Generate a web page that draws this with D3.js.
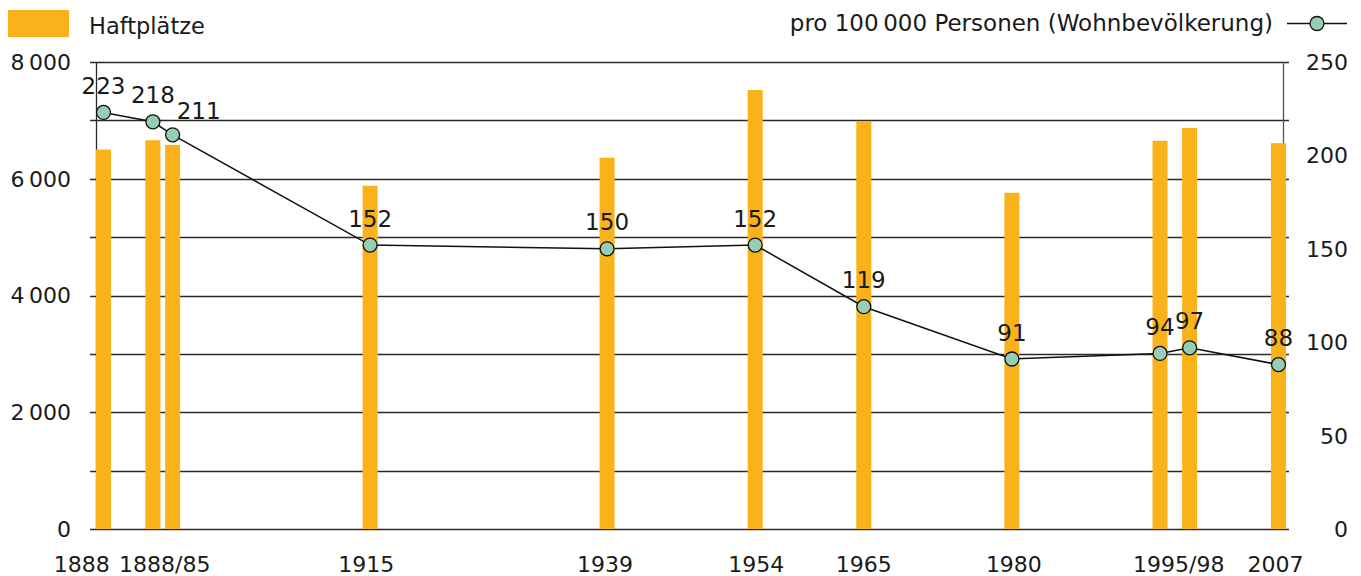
<!DOCTYPE html>
<html>
<head>
<meta charset="utf-8">
<script src="https://cdn.jsdelivr.net/npm/d3@7"></script>
<style>
  html, body { margin: 0; padding: 0; background: #fff; }
  svg { display: block; font-family: "DejaVu Sans", sans-serif; }
</style>
</head>
<body>
<svg id="chart" width="1361" height="576"></svg>
<script>
// Survey years (a two-year pair around 1893/95 and 1995/98)
const years = [1888, 1893, 1895, 1915, 1939, 1954, 1965, 1980, 1995, 1998, 2007];
// Prison places (left axis)
const haftplaetze = [6500, 6660, 6580, 5880, 6360, 7520, 6990, 5760, 6650, 6870, 6610];
// Prison places per 100 000 residents (right axis)
const proHunderttausend = [223, 218, 211, 152, 150, 152, 119, 91, 94, 97, 88];

// Category labels on the x axis and the year each one is centred on
const xLabels = ["1888", "1888/85", "1915", "1939", "1954", "1965", "1980", "1995/98", "2007"];
const xLabelYears = [1885.8, 1894.2, 1914.6, 1938.8, 1954.1, 1965, 1980.2, 1996.9, 2006.7];

const leftTicks = [0, 2000, 4000, 6000, 8000];
const rightTicks = [0, 50, 100, 150, 200, 250];
const gridValues = [0, 1000, 2000, 3000, 4000, 5000, 6000, 7000, 8000];

const legendBars = "Haftplätze";
const legendLine = "pro 100\u2009000 Personen (Wohnbevölkerung)";

const BAR = "#F9B21A";
const DOT = "#95CEB5";
const INK = "#1a1a1a";

const svg = d3.select("#chart");

const plot = { left: 96.5, right: 1283.5, top: 62, bottom: 529 };

const x = d3.scaleLinear().domain([1888, 2007]).range([103.5, 1278.5]);
const yL = d3.scaleLinear().domain([0, 8000]).range([plot.bottom, plot.top]);
const yR = d3.scaleLinear().domain([0, 250]).range([plot.bottom, plot.top]);

const fmt = v => d3.format(",")(v).replace(/,/g, "\u2009");

// Horizontal grid lines with small tick stubs on both sides
svg.append("g")
  .selectAll("line")
  .data(gridValues)
  .join("line")
  .attr("x1", 90).attr("x2", 1289)
  .attr("y1", d => Math.round(yL(d)) + 0.5)
  .attr("y2", d => Math.round(yL(d)) + 0.5)
  .attr("stroke", "#2a2a2a")
  .attr("stroke-width", 1.3);

// Frame verticals
svg.append("line")
  .attr("x1", plot.left).attr("x2", plot.left)
  .attr("y1", plot.top).attr("y2", plot.bottom)
  .attr("stroke", "#2a2a2a").attr("stroke-width", 1.3);
svg.append("line")
  .attr("x1", plot.right).attr("x2", plot.right)
  .attr("y1", plot.top).attr("y2", plot.bottom)
  .attr("stroke", "#555").attr("stroke-width", 1.3);

// Bars
const barW = 15;
svg.append("g")
  .selectAll("rect")
  .data(years)
  .join("rect")
  .attr("x", (d) => x(d) - barW / 2)
  .attr("width", barW)
  .attr("y", (d, i) => yL(haftplaetze[i]))
  .attr("height", (d, i) => plot.bottom - yL(haftplaetze[i]))
  .attr("fill", BAR);

// Left axis labels
svg.append("g")
  .selectAll("text")
  .data(leftTicks)
  .join("text")
  .attr("x", 71)
  .attr("y", d => yL(d))
  .attr("dy", "0.36em")
  .attr("text-anchor", "end")
  .attr("font-size", 22)
  .attr("fill", INK)
  .text(fmt);

// Right axis labels
svg.append("g")
  .selectAll("text")
  .data(rightTicks)
  .join("text")
  .attr("x", 1348)
  .attr("y", d => yR(d))
  .attr("dy", "0.36em")
  .attr("text-anchor", "end")
  .attr("font-size", 22)
  .attr("fill", INK)
  .text(d => d);

// X axis labels
svg.append("g")
  .selectAll("text")
  .data(xLabels)
  .join("text")
  .attr("x", (d, i) => x(xLabelYears[i]))
  .attr("y", 572)
  .attr("text-anchor", "middle")
  .attr("font-size", 22)
  .attr("fill", INK)
  .text(d => d);

// Rate line
const line = d3.line()
  .x((d, i) => x(years[i]))
  .y(d => yR(d));
svg.append("path")
  .datum(proHunderttausend)
  .attr("d", line)
  .attr("fill", "none")
  .attr("stroke", "#111")
  .attr("stroke-width", 1.5);

svg.append("g")
  .selectAll("circle")
  .data(proHunderttausend)
  .join("circle")
  .attr("cx", (d, i) => x(years[i]))
  .attr("cy", d => yR(d))
  .attr("r", 7)
  .attr("fill", DOT)
  .attr("stroke", "#111")
  .attr("stroke-width", 1.3);

// Value labels above the markers; the 1895 label is nudged right to clear its neighbour
const nudge = { 2: 26 };
svg.append("g")
  .selectAll("text")
  .data(proHunderttausend)
  .join("text")
  .attr("x", (d, i) => x(years[i]) + (nudge[i] || 0))
  .attr("y", (d, i) => yR(d) - (i === 2 ? 16 : 18.5))
  .attr("text-anchor", "middle")
  .attr("font-size", 23)
  .attr("fill", INK)
  .text(d => d);

// Legend
svg.append("rect")
  .attr("x", 8).attr("y", 10).attr("width", 61).attr("height", 27)
  .attr("fill", BAR);
svg.append("text")
  .attr("x", 89).attr("y", 34)
  .attr("font-size", 22.5)
  .attr("fill", INK)
  .text(legendBars);

svg.append("text")
  .attr("x", 1273).attr("y", 31)
  .attr("text-anchor", "end")
  .attr("font-size", 23)
  .attr("fill", INK)
  .text(legendLine);
svg.append("line")
  .attr("x1", 1287).attr("x2", 1347)
  .attr("y1", 23.5).attr("y2", 23.5)
  .attr("stroke", "#111").attr("stroke-width", 1.5);
svg.append("circle")
  .attr("cx", 1317).attr("cy", 23.5).attr("r", 7)
  .attr("fill", DOT).attr("stroke", "#111").attr("stroke-width", 1.3);
</script>
</body>
</html>
